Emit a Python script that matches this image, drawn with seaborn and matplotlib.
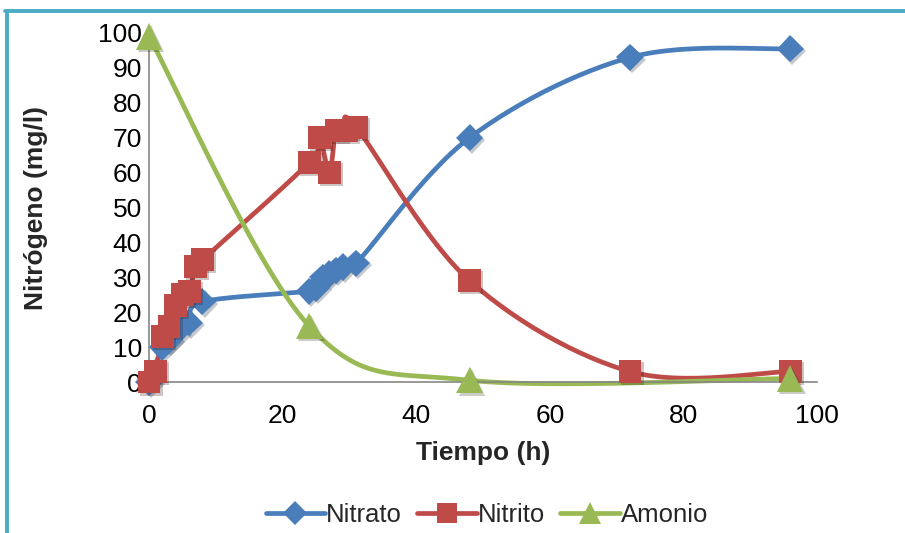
import numpy as np
import pandas as pd
import matplotlib
matplotlib.use("Agg")
import matplotlib.pyplot as plt
import seaborn as sns
from matplotlib.lines import Line2D
import matplotlib.patheffects as pe

# ---- data ----
nitrato_t = [0, 2, 3, 4, 6, 8, 24, 25, 26, 27, 28, 29, 31, 48, 72, 96]
nitrato_v = [0, 10, 12, 14, 17, 23, 26, 27, 30, 31, 32, 33, 34, 70, 93, 95.5]

nitrito_t = [0, 1, 2, 3, 4, 5, 6, 7, 8, 24, 25.5, 27, 28, 29.5, 31, 48, 72, 96]
nitrito_v = [0, 3, 13, 16, 22, 25, 26, 33, 35, 63, 70, 60, 72, 72, 73, 29, 3, 3]

amonio_t = [0, 24, 48, 96]
amonio_v = [99, 16, 0.5, 1]

series_names = ["Nitrato", "Nitrito", "Amonio"]
colors = {"Nitrato": "#4A7EBB", "Nitrito": "#BE4B48", "Amonio": "#98B954"}
markers = {"Nitrato": "D", "Nitrito": "s", "Amonio": "^"}
msizes = {"Nitrato": 14, "Nitrito": 16.5, "Amonio": 19}

x_ticks = [0, 20, 40, 60, 80, 100]
y_ticks = [0, 10, 20, 30, 40, 50, 60, 70, 80, 90, 100]

df = pd.concat([
    pd.DataFrame({"t": nitrato_t, "v": nitrato_v, "serie": "Nitrato"}),
    pd.DataFrame({"t": nitrito_t, "v": nitrito_v, "serie": "Nitrito"}),
    pd.DataFrame({"t": amonio_t, "v": amonio_v, "serie": "Amonio"}),
], ignore_index=True)


def smooth(x, y, n=30):
    """Excel-like smoothed line (Catmull-Rom / cardinal Bezier)."""
    x = np.asarray(x, float)
    y = np.asarray(y, float)
    P = np.column_stack([x, y])
    out = [P[0]]
    for i in range(len(P) - 1):
        p0 = P[i - 1] if i > 0 else P[i]
        p1 = P[i]
        p2 = P[i + 1]
        p3 = P[i + 2] if i + 2 < len(P) else P[i + 1]
        c1 = p1 + (p2 - p0) / 6.0
        c2 = p2 - (p3 - p1) / 6.0
        s = np.linspace(0, 1, n)[1:, None]
        b = ((1 - s) ** 3) * p1 + 3 * ((1 - s) ** 2) * s * c1 + 3 * (1 - s) * s ** 2 * c2 + s ** 3 * p2
        out.extend(b)
    out = np.array(out)
    return out[:, 0], out[:, 1]


sns.set_theme(style="white")
plt.rcParams["font.family"] = ["Liberation Sans", "DejaVu Sans"]

FS = 19

fig = plt.figure(figsize=(9.05, 5.33), dpi=100)
ax = fig.add_axes([149 / 905, 1 - 382 / 533, (817 - 149) / 905, (382 - 33) / 533])

shadow = [pe.SimplePatchShadow(offset=(1.5, -1.5), alpha=0.25), pe.Normal()]

for name in series_names:
    sub = df[df.serie == name]
    sx, sy = smooth(sub.t.values, sub.v.values)
    curve = pd.DataFrame({"t": sx, "v": sy})
    sns.lineplot(data=curve, x="t", y="v", ax=ax, color=colors[name], lw=3.4,
                 sort=False, estimator=None, clip_on=False, zorder=2)

for name in series_names:
    sub = df[df.serie == name]
    ln = ax.plot(sub.t, sub.v, linestyle="none", marker=markers[name],
                 markersize=msizes[name], color=colors[name], markeredgewidth=0,
                 clip_on=False, zorder=3)
    for l in ln:
        l.set_path_effects(shadow)

ax.set_xlim(0, 100)
ax.set_ylim(0, 100)
ax.set_xticks(x_ticks)
ax.set_yticks(y_ticks)
ax.tick_params(axis="x", length=0, labelsize=FS, colors="black", pad=16)
ax.tick_params(axis="y", length=0, labelsize=FS, colors="black", pad=5)
for s in ["top", "right"]:
    ax.spines[s].set_visible(False)
for s in ["left", "bottom"]:
    ax.spines[s].set_color("#868686")
    ax.spines[s].set_linewidth(1.2)
ax.set_xlabel("Tiempo (h)", fontsize=FS, fontweight="bold", labelpad=9)
ax.set_ylabel("Nitrógeno (mg/l)", fontsize=FS, fontweight="bold", labelpad=36)
ax.grid(False)

handles = [Line2D([0], [0], color=colors[n], lw=3.4, marker=markers[n],
                  markersize=msizes[n] * 0.85, markeredgewidth=0) for n in series_names]
fig.legend(handles, series_names, loc="center", bbox_to_anchor=(487 / 905, 1 - 515 / 533),
           ncol=3, frameon=False, fontsize=18.5, handlelength=2.3, handletextpad=0.05,
           columnspacing=0.6)

# frame lines of the chart area
fig.add_artist(Line2D([5 / 905, 1], [1 - 11 / 533, 1 - 11 / 533], color="#4BACC6", lw=2.8,
                      transform=fig.transFigure))
fig.add_artist(Line2D([6.5 / 905, 6.5 / 905], [0, 1 - 11 / 533], color="#4BACC6", lw=2.8,
                      transform=fig.transFigure))

fig.savefig("out.png", dpi=100, facecolor="white")
